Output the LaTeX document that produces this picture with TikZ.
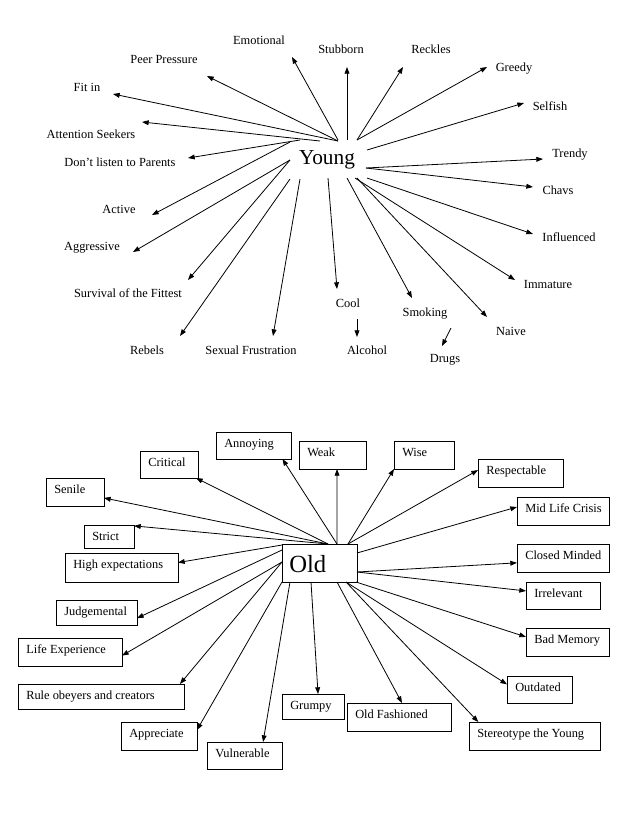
\documentclass[tikz,border=0pt]{standalone}
\usepackage{fontspec}
\setmainfont{Liberation Serif}
\usetikzlibrary{arrows.meta}
\newcommand\obx[6]{%
  \node[obox, minimum width={(#4-#2)*0.75pt}, minimum height={(#5-#3)*0.75pt}] (#1) at ({(#2+#4)/2},{(#3+#5)/2}) {};
  \node[lbl, anchor=base west] (#1-t) at ({#2+8},{#3+15.5}) {#6};}
\newcommand\ylab[4]{\node[lbl, anchor=base] (#1) at (#2,{#3+4}) {#4};}
\newcommand\yar[6]{%
  \coordinate (#1-s) at (#2,#3);
  \coordinate (#1-e) at (#4,#5);
  \draw[arr] (#1-s) -- (#1-e);}
\begin{document}
\begin{tikzpicture}[x=0.75pt,y=-0.75pt,
  lbl/.style={font=\fontsize{9.3}{11}\selectfont, inner sep=0pt},
  obox/.style={draw, line width=0.7pt, inner sep=0pt, outer sep=0pt},
  arr/.style={-{Triangle[length=5pt,width=3.6pt]}, line width=0.6pt}]
\fill[white] (0,0) rectangle (638,826);
\useasboundingbox (0,0) rectangle (638,826);

% ---------- Young ----------
\node[font=\fontsize{16}{18}\selectfont, inner sep=0pt, anchor=base] (young) at (327,164) {Young};
\ylab{emot}{259}{40}{Emotional}
\ylab{peer}{164}{59}{Peer Pressure}
\ylab{fitin}{87}{87}{Fit in}
\ylab{atten}{91}{134}{Attention Seekers}
\ylab{dont}{120}{162}{Don’t listen to Parents}
\ylab{active}{119}{209}{Active}
\ylab{aggr}{92}{246}{Aggressive}
\ylab{surv}{128}{293}{Survival of the Fittest}
\ylab{rebels}{147}{350}{Rebels}
\ylab{sexual}{251}{350}{Sexual Frustration}
\ylab{stub}{341}{49}{Stubborn}
\ylab{reck}{431}{49}{Reckles}
\ylab{greedy}{514}{67}{Greedy}
\ylab{selfish}{550}{106}{Selfish}
\ylab{trendy}{570}{153}{Trendy}
\ylab{chavs}{558}{190}{Chavs}
\ylab{infl}{569}{237}{Influenced}
\ylab{immat}{548}{284}{Immature}
\ylab{naive}{511}{331}{Naive}
\ylab{smok}{425}{312}{Smoking}
\ylab{cool}{348}{303}{Cool}
\ylab{alco}{367}{350}{Alcohol}
\ylab{drugs}{445}{358}{Drugs}

\yar{a1}{338}{140}{292}{57}{}
\yar{a2}{338}{141}{207}{76}{}
\yar{a3}{338}{141}{113}{94}{}
\yar{a4}{320}{141}{142}{122}{}
\yar{a5}{300}{140}{188}{158}{}
\yar{a6}{290}{142}{152}{215}{}
\yar{a7}{290}{160}{133}{252}{}
\yar{a8}{290}{160}{188}{280}{}
\yar{a9}{290}{179}{180}{336}{}
\yar{a10}{300}{179}{273}{336}{}
\yar{a11}{328}{178}{337}{289}{}
\yar{a12}{347}{178}{412}{298}{}
\yar{a13}{357}{178}{487}{317}{}
\yar{a14}{355}{178}{515}{280}{}
\yar{a15}{367}{178}{533}{234}{}
\yar{a16}{366}{168}{533}{187}{}
\yar{a17}{366}{168}{543}{159}{}
\yar{a18}{367}{150}{524}{103}{}
\yar{a19}{357}{140}{487}{67}{}
\yar{a20}{357}{140}{403}{67}{}
\yar{a21}{347}{140}{347}{67}{}
\yar{a22}{357}{319}{357}{337}{}
\yar{a23}{451}{328}{442}{346}{}

% ---------- Old ----------
\node[obox, minimum width={75*0.75pt}, minimum height={38*0.75pt}] (old) at (319.5,563) {};
\node[font=\fontsize{18.5}{20}\selectfont, inner sep=0pt, anchor=base west] (old-t) at (289,572) {Old};

\obx{annoy}{216}{432}{291}{459}{Annoying}
\obx{crit}{140}{451}{198}{478}{Critical}
\obx{senile}{46}{478}{104}{506}{Senile}
\obx{strict}{84}{525}{134}{548}{Strict}
\obx{highexp}{65}{553}{178}{582}{High expectations}
\obx{judg}{56}{600}{137}{625}{Judgemental}
\obx{lifeexp}{18}{638}{122}{666}{Life Experience}
\obx{rule}{18}{684}{184}{709}{Rule obeyers and creators}
\obx{appr}{121}{722}{197}{750}{Appreciate}
\obx{vuln}{207}{742}{282}{769}{Vulnerable}
\obx{grumpy}{282}{694}{344}{719}{Grumpy}
\obx{oldfash}{347}{703}{451}{731}{Old Fashioned}
\obx{stereo}{469}{722}{600}{750}{Stereotype the Young}
\obx{outd}{507}{676}{572}{703}{Outdated}
\obx{badmem}{526}{628}{609}{656}{Bad Memory}
\obx{irrel}{526}{582}{600}{609}{Irrelevant}
\obx{closed}{517}{544}{609}{572}{Closed Minded}
\obx{midlife}{517}{497}{609}{525}{Mid Life Crisis}
\obx{resp}{478}{459}{563}{487}{Respectable}
\obx{wise}{394}{441}{454}{469}{Wise}
\obx{weak}{299}{441}{366}{469}{Weak}

\coordinate (o1) at (337,544);
\coordinate (o2) at (328,544);
\coordinate (o3) at (282,545);
\coordinate (o4) at (282,550);
\coordinate (o5) at (282,562);
\coordinate (o6) at (282,582);
\coordinate (o7) at (290,582);
\coordinate (o8) at (311,582);
\coordinate (o9) at (337,582);
\coordinate (o10) at (346,582);
\coordinate (o11) at (356,582);
\coordinate (o12) at (357,572);
\coordinate (o13) at (357,553);
\coordinate (o14) at (348,544);

\draw[arr] (o1) -- (annoy.335);
\draw[arr] (o2) -- (crit);
\draw[arr] (o2) -- (senile);
\draw[arr] (o2) -- (strict.23);
\draw[arr] (o3) -- (highexp.5);
\draw[arr] (o4) -- (judg.352);
\draw[arr] (o5) -- (lifeexp.356);
\draw[arr] (o5) -- (rule.9);
\draw[arr] (o6) -- (appr.9);
\draw[arr] (o7) -- (vuln.36);
\draw[arr] (o8) -- (grumpy.68);
\draw[arr] (o9) -- (oldfash.78);
\draw[arr] (o10) -- (stereo.166);
\draw[arr] (o10) -- (outd.171);
\draw[arr] (o11) -- (badmem.173);
\draw[arr] (o12) -- (irrel.173);
\draw[arr] (o12) -- (closed.186);
\draw[arr] (o13) -- (midlife.175);
\draw[arr] (o14) -- (resp.176);
\draw[arr] (o14) -- (wise.south west);
\draw[arr] (o1) -- (weak.288);
\end{tikzpicture}
\end{document}
